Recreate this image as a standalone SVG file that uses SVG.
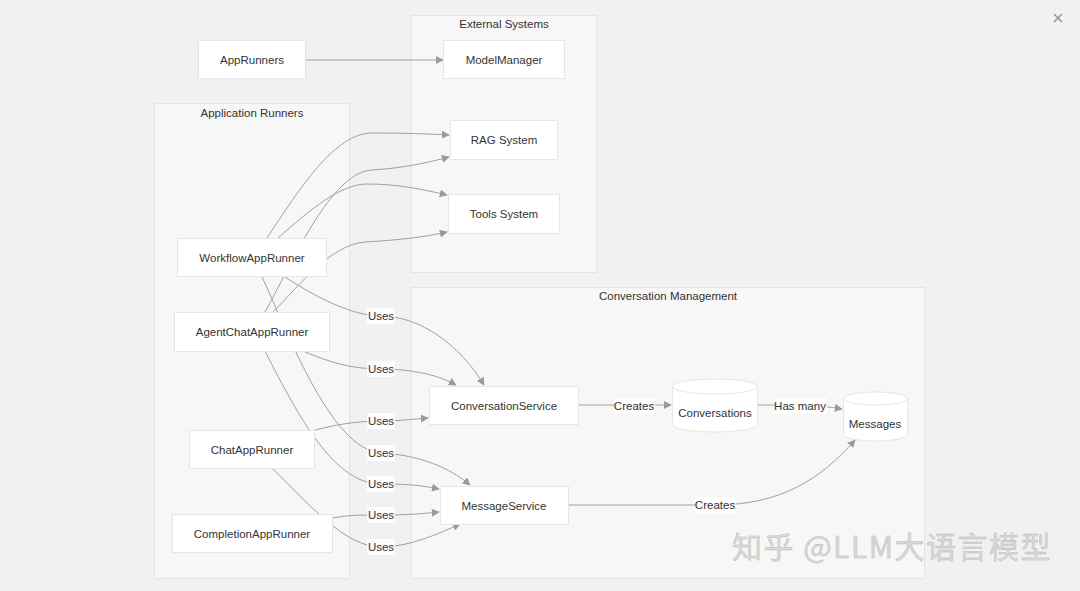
<svg xmlns="http://www.w3.org/2000/svg" width="1080" height="591" viewBox="0 0 1080 591">
<defs>
<marker id="arr" viewBox="0 0 10 10" refX="9" refY="5" markerWidth="8" markerHeight="8" markerUnits="userSpaceOnUse" orient="auto">
<path d="M0,0 L10,5 L0,10 z" fill="#9a9a9a"/>
</marker>
<style>
.cl{fill:#f7f7f7;stroke:#e4e4e4;stroke-width:1}
.nd{fill:#ffffff;stroke:#e6e6e6;stroke-width:1}
.t{font-family:"Liberation Sans",Arial,sans-serif;font-size:11.5px;fill:#333;text-anchor:middle;dominant-baseline:central}
.e{fill:none;stroke:#a0a0a0;stroke-width:1;marker-end:url(#arr)}
.lb{fill:#ffffff;opacity:0.85}
.wm{font-family:"Noto Sans CJK SC","Liberation Sans",sans-serif;font-size:30px;letter-spacing:1.5px;fill:#d8d8d8;stroke:#b8b8b8;stroke-width:0.4}
</style>
</defs>
<rect x="0" y="0" width="1080" height="591" fill="#f1f1f1"/>
<g id="clusters">
<g id="cluster-external"><rect class="cl" x="411.5" y="15.5" width="185" height="257"/><text class="t" x="504" y="24">External Systems</text></g>
<g id="cluster-runners"><rect class="cl" x="154.5" y="103.5" width="195" height="475"/><text class="t" x="252" y="113">Application Runners</text></g>
<g id="cluster-conv"><rect class="cl" x="411.5" y="287.5" width="513" height="291"/><text class="t" x="668" y="296">Conversation Management</text></g>
</g>
<g id="connectors">
<path class="e" d="M305,60 L443,60"/>
<path class="e" d="M267,238 C300,188 335,133 372,133 C405,133 430,134 449,135"/>
<path class="e" d="M278,238 C310,210 340,184 367,184 C400,184 425,190 447,195"/>
<path class="e" d="M265,312 C290,268 330,172 372,170 C405,168 430,162 449,157"/>
<path class="e" d="M273,312 C300,285 330,245 365,242 C400,240 425,237 447,232"/>
<path class="e" d="M285,277 C320,300 355,316 381,316 C420,316 460,345 484,385"/>
<path class="e" d="M305,352 C330,362 350,369 381,369 C415,369 440,376 456,385"/>
<path class="e" d="M315,430 C335,425 355,421 381,421 C400,421 415,419 428,418"/>
<path class="e" d="M262,277 C285,325 330,450 381,453 C420,455 450,468 470,485"/>
<path class="e" d="M265,351 C300,420 335,484 381,484 C410,484 425,486 439,489"/>
<path class="e" d="M332,518 C350,515 360,515 381,515 C405,515 420,514 439,512"/>
<path class="e" d="M272,468 C310,505 345,547 381,547 C410,547 440,533 460,524"/>
<path class="e" d="M578,405 L671,405"/>
<path class="e" d="M757,405 L790,405 C815,405 830,407 842,409"/>
<path class="e" d="M568,505 L715,505 C780,505 820,480 855,440"/>
<g id="edge-labels">
<rect class="lb" x="367" y="308" width="28" height="16"/><text class="t" x="381" y="316">Uses</text>
<rect class="lb" x="367" y="361" width="28" height="16"/><text class="t" x="381" y="369">Uses</text>
<rect class="lb" x="367" y="413" width="28" height="16"/><text class="t" x="381" y="421">Uses</text>
<rect class="lb" x="367" y="445" width="28" height="16"/><text class="t" x="381" y="453">Uses</text>
<rect class="lb" x="367" y="476" width="28" height="16"/><text class="t" x="381" y="484">Uses</text>
<rect class="lb" x="367" y="507" width="28" height="16"/><text class="t" x="381" y="515">Uses</text>
<rect class="lb" x="367" y="539" width="28" height="16"/><text class="t" x="381" y="547">Uses</text>
<rect class="lb" x="614" y="398" width="41" height="16"/><text class="t" x="634" y="406">Creates</text>
<rect class="lb" x="775" y="398" width="52" height="16"/><text class="t" x="800" y="406">Has many</text>
<rect class="lb" x="695" y="497" width="41" height="16"/><text class="t" x="715" y="505">Creates</text>
</g>
</g>
<g id="AppRunners"><rect class="nd" x="198.5" y="40.5" width="107" height="38"/><text class="t" x="252" y="60">AppRunners</text></g>
<g id="ModelManager"><rect class="nd" x="443.5" y="40.5" width="121" height="38"/><text class="t" x="504" y="60">ModelManager</text></g>
<g id="RAGSystem"><rect class="nd" x="450.5" y="120.5" width="107" height="39"/><text class="t" x="504" y="140">RAG System</text></g>
<g id="ToolsSystem"><rect class="nd" x="448.5" y="194.5" width="111" height="39"/><text class="t" x="504" y="214">Tools System</text></g>
<g id="WorkflowAppRunner"><rect class="nd" x="177.5" y="238.5" width="149" height="38"/><text class="t" x="252" y="258">WorkflowAppRunner</text></g>
<g id="AgentChatAppRunner"><rect class="nd" x="174.5" y="312.5" width="155" height="39"/><text class="t" x="252" y="332">AgentChatAppRunner</text></g>
<g id="ChatAppRunner"><rect class="nd" x="189.5" y="430.5" width="125" height="38"/><text class="t" x="252" y="450">ChatAppRunner</text></g>
<g id="CompletionAppRunner"><rect class="nd" x="172.5" y="514.5" width="160" height="38"/><text class="t" x="252" y="534">CompletionAppRunner</text></g>
<g id="ConversationService"><rect class="nd" x="429.5" y="386.5" width="149" height="38"/><text class="t" x="504" y="406">ConversationService</text></g>
<g id="MessageService"><rect class="nd" x="440.5" y="486.5" width="128" height="38"/><text class="t" x="504" y="506">MessageService</text></g>
<g id="Conversations">
<path class="nd" d="M672.5,386.5 A42.5,7.5 0 0 1 757.5,386.5 L757.5,424.5 A42.5,7.5 0 0 1 672.5,424.5 Z"/>
<path d="M672.5,386.5 A42.5,7.5 0 0 0 757.5,386.5" fill="none" stroke="#e6e6e6"/>
<text class="t" x="715" y="413">Conversations</text>
</g>
<g id="Messages">
<path class="nd" d="M843.5,398.5 A32,6.5 0 0 1 907.5,398.5 L907.5,434.5 A32,6.5 0 0 1 843.5,434.5 Z"/>
<path d="M843.5,398.5 A32,6.5 0 0 0 907.5,398.5" fill="none" stroke="#e6e6e6"/>
<text class="t" x="875" y="424">Messages</text>
</g>
<g id="close"><path d="M1054,14 L1062,22 M1062,14 L1054,22" stroke="#8a8a8a" stroke-width="1.2" fill="none"/></g>
<text class="wm" x="732" y="558">知乎 @LLM大语言模型</text>
</svg>
